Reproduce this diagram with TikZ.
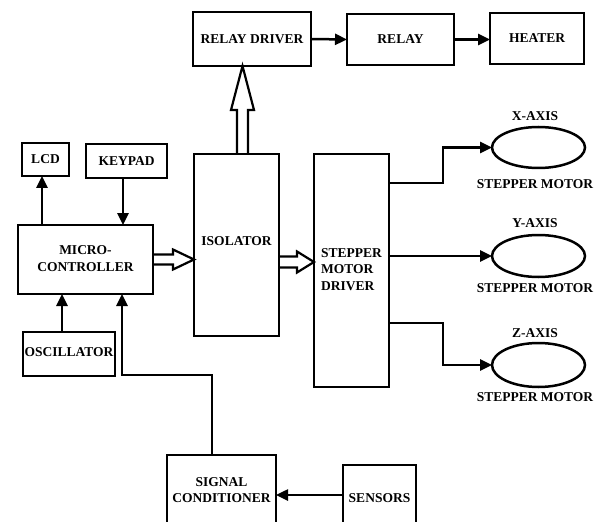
\documentclass[tikz,border=0pt]{standalone}
\usepackage{fontspec}
\setmainfont{Liberation Serif}
\usetikzlibrary{arrows.meta,calc,shapes.geometric}
\begin{document}
\begin{tikzpicture}[x=1pt,y=-1pt,
 box/.style={draw,line width=2.5pt,inner sep=0pt,outer sep=0pt,font=\bfseries\fontsize{13.5}{16.5}\selectfont,align=center},
 ell/.style={draw,ellipse,line width=2.5pt,inner sep=0pt,outer sep=0pt,minimum width=93pt},
 lbl/.style={font=\bfseries\fontsize{13.5}{16}\selectfont,inner sep=0pt},
 arr/.style={line width=2.5pt,-{Triangle[length=12pt,width=11pt]}},
 hollow/.style={line width=2.2pt,line join=miter}]
\useasboundingbox (0,0) rectangle (601,521);
\clip (0,0) rectangle (601,521);
% top row
\node[box,minimum width=118pt,minimum height=54pt] (rd) at (252,39) {RELAY DRIVER};
\node[box,minimum width=107pt,minimum height=51pt] (relay) at (400.5,39.5) {RELAY};
\node[box,minimum width=94pt,minimum height=51pt] (heater) at (537,38.5) {\raisebox{1.5pt}{HEATER}};
% middle
\node[box,minimum width=85pt,minimum height=182pt] (iso) at (236.5,245) {\raisebox{7pt}{ISOLATOR}};
\node[box,minimum width=75pt,minimum height=233pt] (smd) at (351.5,270.5) {\raisebox{7pt}{\begin{tabular}{@{}l@{}}STEPPER\\MOTOR\\DRIVER\end{tabular}}};
% left
\node[box,minimum width=47pt,minimum height=33pt] (lcd) at (45.5,159.5) {LCD};
\node[box,minimum width=81pt,minimum height=34pt] (keypad) at (126.5,161) {KEYPAD};
\node[box,minimum width=135pt,minimum height=69pt] (mc) at (85.5,259.5) {\raisebox{3pt}{\begin{tabular}{@{}c@{}}MICRO-\\CONTROLLER\end{tabular}}};
\node[box,minimum width=92pt,minimum height=44pt] (osc) at (69,354) {\raisebox{3pt}{OSCILLATOR}};
% bottom
\node[box,minimum width=109pt,minimum height=70pt] (sc) at (221.5,490) {SIGNAL\\CONDITIONER};
\node[box,minimum width=73pt,minimum height=66pt] (sens) at (379.5,498) {SENSORS};
% motors
\node[ell,minimum height=41pt] (ex) at (538.5,147.5) {};
\node[ell,minimum height=42pt] (ey) at (538.5,256) {};
\node[ell,minimum height=44pt] (ez) at (538.5,365) {};
\node[lbl] (xl) at (535,116) {X-AXIS};
\node[lbl] (xs) at (535,184) {STEPPER MOTOR};
\node[lbl] (yl) at (535,223) {Y-AXIS};
\node[lbl] (ys) at (535,288) {STEPPER MOTOR};
\node[lbl] (zl) at (535,333) {Z-AXIS};
\node[lbl] (zs) at (535,397) {STEPPER MOTOR};
% connectors top
\draw[arr] (rd.east) -- (relay.west);
\draw[arr] (relay.east) -- (heater.west |- relay.east);
% smd to motors
\draw[arr] ($(smd.north east)+(0,29)$) -| ($(ex.west)+(-49,0)$) -- (ex.west);
\draw[arr] (smd.east |- ey.west) -- (ey.west);
\draw[arr] ($(smd.south east)+(0,-64)$) -| ($(ez.west)+(-49,0)$) -- (ez.west);
% left connectors
\coordinate (lcdin) at ($(lcd.south)+(-3.5,0)$);
\draw[arr] (lcdin |- mc.north) -- (lcdin);
\coordinate (kpout) at ($(keypad.south)+(-3.5,0)$);
\draw[arr] (kpout) -- (kpout |- mc.north);
\coordinate (oscout) at ($(osc.north)+(-7,0)$);
\draw[arr] (oscout) -- (oscout |- mc.south);
\draw[arr] ($(sc.north)+(-9.5,0)$) |- ($(mc.south)+(36.5,81)$) -- ($(mc.south)+(36.5,0)$);
\draw[arr] ($(sens.west)+(0,-3)$) -- ($(sc.east |- sens.west)+(0,-3)$);
% hollow arrows
\draw[hollow] let \p1=(mc.east), \p2=(iso.west) in
  (\x1,\y1+5pt) -- (\x2-21pt,\y1+5pt) -- (\x2-21pt,\y1+10pt) -- (\x2,\y1)
  -- (\x2-21pt,\y1-10pt) -- (\x2-21pt,\y1-5pt) -- (\x1,\y1-5pt);
\draw[hollow] let \p1=($(iso.east)+(0,17)$), \p2=(smd.west) in
  (\x1,\y1+5.5pt) -- (\x2-17pt,\y1+5.5pt) -- (\x2-17pt,\y1+10.5pt) -- (\x2,\y1)
  -- (\x2-17pt,\y1-10.5pt) -- (\x2-17pt,\y1-5.5pt) -- (\x1,\y1-5.5pt);
\draw[hollow] let \p1=($(iso.north)+(6,0)$), \p2=(rd.south) in
  (\x1-5.5pt,\y1) -- (\x1-5.5pt,\y2-44pt) -- (\x1-11.5pt,\y2-44pt) -- (\x1,\y2)
  -- (\x1+11.5pt,\y2-44pt) -- (\x1+5.5pt,\y2-44pt) -- (\x1+5.5pt,\y1);
\end{tikzpicture}
\end{document}
